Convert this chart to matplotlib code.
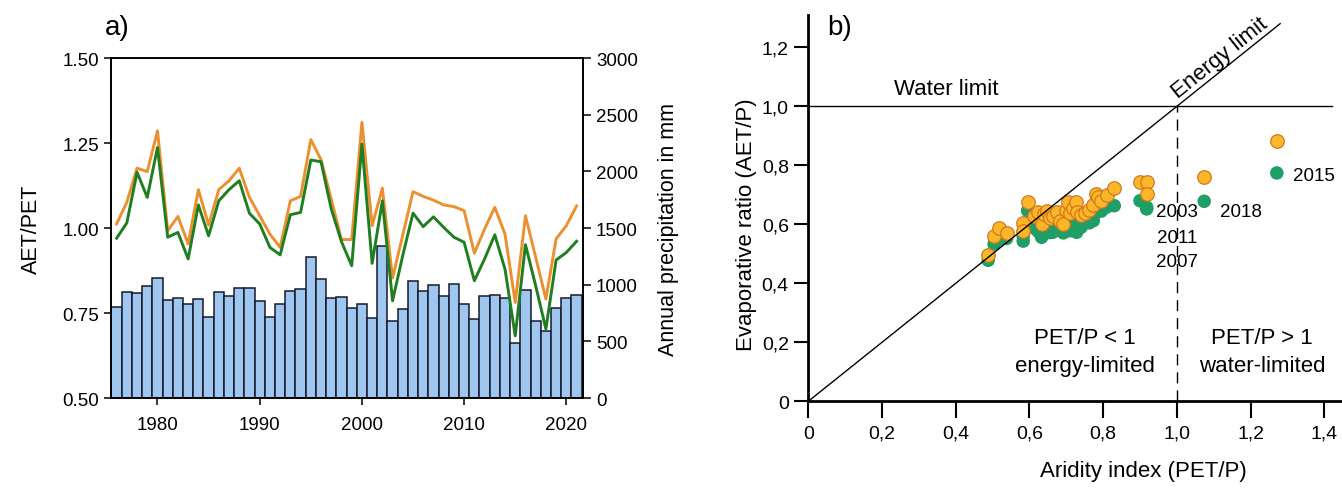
import matplotlib
matplotlib.use('Agg')
import matplotlib.pyplot as plt
import numpy as np

plt.rcParams['font.family'] = ['Liberation Sans', 'DejaVu Sans']

# --- a) yearly series -------------------------------------------------------
years = np.arange(1976, 2022)

precip_mm = [800, 938, 929, 991, 1059, 865, 882, 832, 874, 718,
             938, 900, 968, 968, 859, 715, 829, 947, 962, 1241,
             1050, 882, 891, 791, 826, 709, 1338, 679, 785, 1029,
             941, 997, 897, 1006, 832, 694, 903, 912, 885, 482,
             953, 682, 594, 791, 879, 912]

aet_pet_orange = [1.012, 1.076, 1.176, 1.166, 1.286, 0.992, 1.034, 0.953, 1.113, 1.009,
                  1.113, 1.139, 1.176, 1.090, 1.036, 0.982, 0.943, 1.080, 1.093, 1.260,
                  1.201, 1.085, 0.966, 0.966, 1.311, 1.007, 1.117, 0.853, 0.980, 1.107,
                  1.093, 1.082, 1.068, 1.063, 1.051, 0.926, 0.997, 1.061, 0.982, 0.781,
                  1.036, 0.914, 0.791, 0.968, 1.007, 1.065]

aet_pet_green = [0.970, 1.015, 1.164, 1.090, 1.237, 0.973, 0.987, 0.909, 1.068, 0.977,
                 1.080, 1.113, 1.139, 1.043, 1.012, 0.943, 0.921, 1.039, 1.046, 1.200,
                 1.195, 1.056, 0.960, 0.889, 1.247, 0.896, 1.080, 0.786, 0.920, 1.044,
                 1.004, 1.033, 1.002, 0.973, 0.958, 0.845, 0.909, 0.980, 0.879, 0.683,
                 0.951, 0.830, 0.703, 0.906, 0.928, 0.961]

# --- b) Budyko-type space ---------------------------------------------------
aridity = [0.488, 0.504, 0.518, 0.538, 0.583, 0.583, 0.595, 0.612, 0.624, 0.633,
           0.640, 0.647, 0.655, 0.663, 0.674, 0.682, 0.692, 0.700, 0.705, 0.710,
           0.718, 0.726, 0.728, 0.740, 0.751, 0.762, 0.773, 0.781, 0.787, 0.795,
           0.809, 0.830, 0.900, 0.918, 0.918, 1.074, 1.271]
evap_orange = [0.497, 0.561, 0.587, 0.571, 0.603, 0.578, 0.677, 0.628, 0.641, 0.601,
               0.635, 0.646, 0.620, 0.627, 0.641, 0.610, 0.601, 0.650, 0.675, 0.637,
               0.655, 0.675, 0.641, 0.630, 0.637, 0.650, 0.666, 0.703, 0.692, 0.680,
               0.700, 0.722, 0.744, 0.744, 0.703, 0.761, 0.883]
evap_green = [0.478, 0.533, 0.548, 0.552, 0.560, 0.543, 0.646, 0.588, 0.575, 0.556,
              0.585, 0.590, 0.572, 0.573, 0.595, 0.580, 0.571, 0.598, 0.610, 0.578,
              0.600, 0.612, 0.573, 0.590, 0.612, 0.605, 0.612, 0.640, 0.652, 0.645,
              0.658, 0.663, 0.680, 0.658, 0.652, 0.678, 0.774]

year_notes = ['2003', '2011', '2007', '2018', '2015']
note_x = [1.0, 1.0, 1.0, 1.173, 1.373]
note_y = [0.644, 0.556, 0.475, 0.644, 0.764]

xticks_b = [0, 0.2, 0.4, 0.6, 0.8, 1.0, 1.2, 1.4]
yticks_b = [0, 0.2, 0.4, 0.6, 0.8, 1.0, 1.2]


def comma(v):
    return '0' if v == 0 else '{:.1f}'.format(v).replace('.', ',')


fig = plt.figure(figsize=(13.42, 4.89), dpi=100)

# panel a
ax = fig.add_axes([0.0827, 0.184, 0.3515, 0.6953])
axr = ax.twinx()
axr.bar(years, precip_mm, width=1.0, color='#9fc6ee', edgecolor='#15192b', linewidth=1.1)
axr.set_ylim(0, 3000)
axr.set_yticks(np.arange(0, 3001, 500))
axr.set_ylabel('Annual precipitation in mm', fontsize=15.5)
axr.yaxis.set_label_coords(1.160, 0.5)

ax.set_zorder(axr.get_zorder() + 1)
ax.patch.set_visible(False)
ax.plot(years, aet_pet_orange, color='#ec8f2e', lw=2.1)
ax.plot(years, aet_pet_green, color='#1f7e1f', lw=2.1)
ax.set_xlim(1975.45, 2021.6)
ax.set_ylim(0.5, 1.5)
ax.set_yticks([0.5, 0.75, 1.0, 1.25, 1.5])
ax.set_yticklabels(['0.50', '0.75', '1.00', '1.25', '1.50'])
ax.set_xticks([1980, 1990, 2000, 2010, 2020])
ax.set_ylabel('AET/PET', fontsize=15.5)
ax.yaxis.set_label_coords(-0.146, 0.5)

for a in (ax, axr):
    a.tick_params(labelsize=13.5, length=5, width=1.1, colors='black')
    for s in a.spines.values():
        s.set_linewidth(1.2)
ax.tick_params(axis='x', pad=8)
axr.tick_params(axis='y', length=6)

fig.text(0.0872, 0.9427, 'a)', fontsize=20, ha='center', va='center')

# panel b
bx = fig.add_axes([0.6023, 0.1773, 0.3983, 0.7903])
bx.set_xlim(0, 1.45)
bx.set_ylim(0, 1.31)
bx.spines['top'].set_visible(False)
bx.spines['right'].set_visible(False)
bx.spines['left'].set_linewidth(2.0)
bx.spines['bottom'].set_linewidth(2.0)

bx.scatter(aridity, evap_green, s=95, color='#1f9e66', edgecolors='none', zorder=2)
bx.scatter(aridity, evap_orange, s=95, color='#fdb62a', edgecolors='#cf7a1c',
           linewidths=0.9, zorder=3)

bx.plot([0, 1.28], [0, 1.28], color='black', lw=1.0, zorder=4)
bx.plot([0, 1.42], [1.0, 1.0], color='black', lw=1.0, zorder=4)
bx.plot([1.0, 1.0], [0, 1.0], color='black', lw=1.0, ls=(0, (8, 5)), zorder=4)

bx.text(0.374, 1.061, 'Water limit', fontsize=16, ha='center', va='center')
bx.text(1.117, 1.167, 'Energy limit', fontsize=16, ha='center', va='center',
        rotation=38.7, rotation_mode='anchor')
bx.text(0.751, 0.169, 'PET/P < 1\nenergy-limited', fontsize=16, ha='center',
        va='center', linespacing=1.45)
bx.text(1.231, 0.169, 'PET/P > 1\nwater-limited', fontsize=16, ha='center',
        va='center', linespacing=1.45)
for t, x, y in zip(year_notes, note_x, note_y):
    bx.text(x, y, t, fontsize=13.5, ha='center', va='center')

bx.set_xticks(xticks_b)
bx.set_xticklabels([comma(v) for v in xticks_b])
bx.set_yticks(yticks_b)
bx.set_yticklabels([comma(v) for v in yticks_b])
bx.tick_params(axis='x', labelsize=14, length=12, width=1.5, pad=5)
bx.tick_params(axis='y', labelsize=14, length=10, width=1.5, pad=4)
bx.set_xlabel('Aridity index (PET/P)', fontsize=16)
bx.xaxis.set_label_coords(0.626, -0.152)
bx.set_ylabel('Evaporative ratio (AET/P)', fontsize=16)
bx.yaxis.set_label_coords(-0.096, 0.459)

fig.text(840 / 1342, 1 - 28 / 489, 'b)', fontsize=20, ha='center', va='center')

fig.savefig('out.png', dpi=100)
